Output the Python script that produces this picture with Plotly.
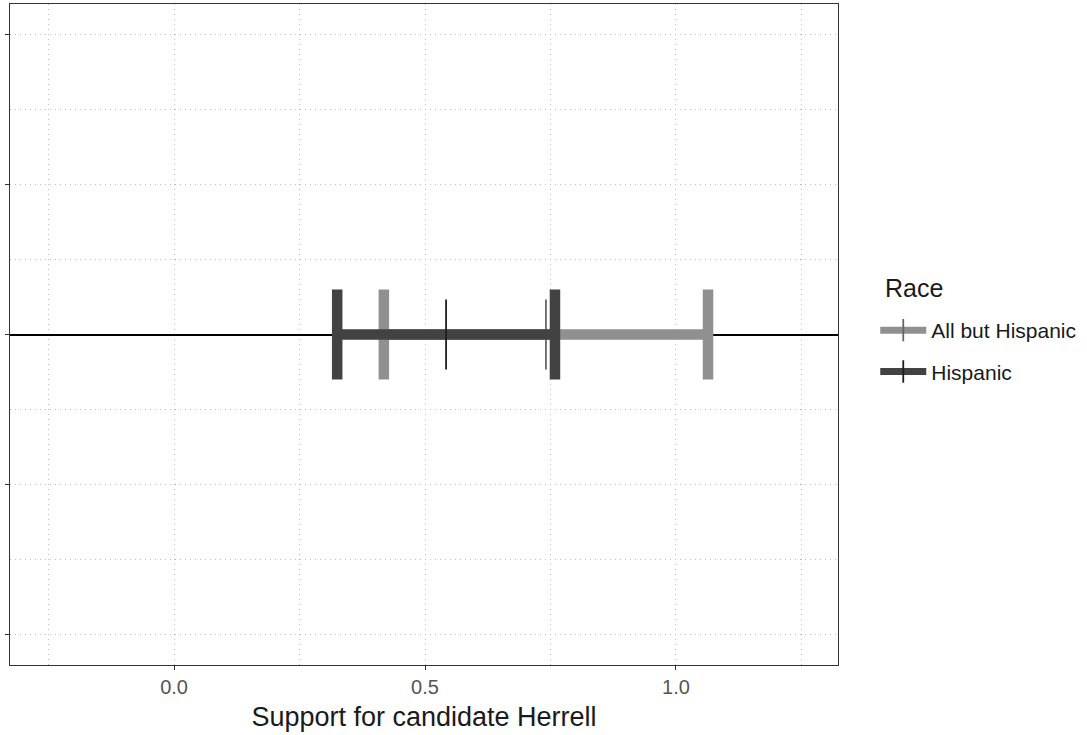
import plotly.graph_objects as go

# Data
races = ["All but Hispanic", "Hispanic"]
estimates = [0.741, 0.542]
lower = [0.418, 0.325]
upper = [1.064, 0.759]
bar_colors = ["#909090", "#424242"]
mid_colors = ["#666666", "#1e1e1e"]
legend_title = "Race"
x_title = "Support for candidate Herrell"

fig = go.Figure()
for name, est, lo, hi, bc, mc in zip(races, estimates, lower, upper, bar_colors, mid_colors):
    fig.add_trace(go.Scatter(
        x=[est], y=[0], name=name, mode="lines+markers",
        line=dict(color=bc, width=7),
        marker=dict(symbol="line-ns", size=50, color=mc, line=dict(color=mc, width=1.8)),
        error_x=dict(type="data", symmetric=False,
                     array=[hi - est], arrayminus=[est - lo],
                     thickness=10.5, width=45, color=bc),
        legendgroup=name,
    ))

grid = "#bdbdbd"
axis_common = dict(showline=True, linecolor="#333333", linewidth=1, mirror=True,
                   gridcolor=grid, griddash="1px,4px", gridwidth=1,
                   ticks="outside", ticklen=4, tickcolor="#333333", automargin=False)

fig.update_xaxes(range=[-0.327, 1.323], tick0=0, dtick=0.5, tickformat=".1f",
                 zeroline=False,
                 minor=dict(dtick=0.25, showgrid=True, gridcolor=grid, griddash="1px,4px"),
                 tickfont=dict(size=20, color="#555555"),
                 title=dict(text=x_title, font=dict(size=27, color="#1a1a1a"), standoff=10),
                 **axis_common)
fig.update_yaxes(range=[-0.055, 0.055], tick0=0, dtick=0.025, showticklabels=False,
                 zeroline=True, zerolinecolor="black", zerolinewidth=1.5,
                 minor=dict(dtick=0.0125, showgrid=True, gridcolor=grid, griddash="1px,4px"),
                 **axis_common)

fig.add_annotation(text=legend_title, xref="paper", yref="paper",
                   x=(883 - 10) / 828, xanchor="left",
                   y=(665 - 288) / 661, yanchor="middle",
                   showarrow=False, font=dict(size=25, color="#1a1a1a"))

fig.update_layout(
    width=1087, height=735,
    margin=dict(l=10, r=249, t=4, b=70, autoexpand=False),
    plot_bgcolor="white", paper_bgcolor="white",
    font=dict(family="Liberation Sans, Arial, sans-serif", color="#1a1a1a"),
    legend=dict(font=dict(size=21),
                x=1.045, xanchor="left", y=(665 - 310) / 661, yanchor="top",
                itemwidth=46, tracegroupgap=11, bgcolor="rgba(0,0,0,0)"),
    showlegend=True,
)

fig.write_html("out.html", config={"displayModeBar": False},
               post_script="document.body.style.margin='0';document.body.style.overflow='hidden';")
